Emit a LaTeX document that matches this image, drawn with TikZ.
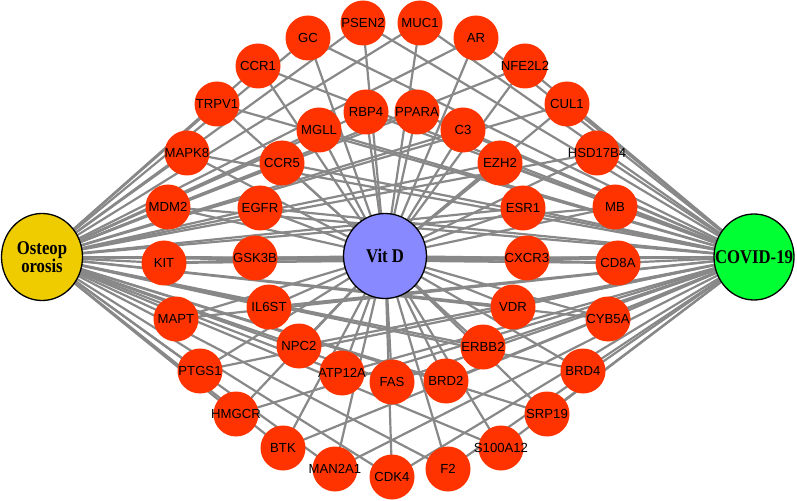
\documentclass[tikz,border=0pt]{standalone}
\usepackage{fontspec}
\setmainfont{Liberation Sans}
\newfontfamily\hubfont{Liberation Serif}
\usetikzlibrary{backgrounds,shapes.geometric}
\definecolor{genefill}{RGB}{255,51,0}
\definecolor{edgegray}{RGB}{136,136,136}
\definecolor{osteofill}{RGB}{238,204,0}
\definecolor{vitdfill}{RGB}{136,136,255}
\definecolor{covidfill}{RGB}{0,255,51}
\tikzset{
  genelabel/.style={font=\fontsize{13.2}{15}\selectfont,text=black,inner sep=0pt},
  gene/.style={circle,fill=genefill,minimum size=45bp,inner sep=0pt,
    label={[genelabel]center:#1}},
  hub/.style={ellipse,draw=black,line width=1.3bp,inner sep=0pt},
  hublabel/.style={font=\hubfont\bfseries\fontsize{19.5}{13.6}\selectfont,align=center,inner sep=0pt},
  link/.style={draw=edgegray,line width=2.2bp}
}
\newcommand{\hs}[1]{\scalebox{0.86}[1]{#1}}
\begin{document}
\begin{tikzpicture}[x=1bp,y=-1bp]
\useasboundingbox (0,0) rectangle (797,501);
% hubs
\node[hub,fill=osteofill,minimum width=81bp,minimum height=87bp,
  label={[hublabel]center:\hs{Osteop}\\\hs{orosis}}] (osteo) at (42,257) {};
\node[hub,fill=vitdfill,minimum width=83bp,minimum height=85bp,
  label={[hublabel]center:\hs{Vit D}}] (vitd) at (385,256) {};
\node[hub,fill=covidfill,minimum width=80bp,minimum height=86bp,
  label={[hublabel]center:\hs{COVID-19}}] (covid) at (754,257) {};
% outer ring
\node[gene=GC] (GC) at (308,38) {};
\node[gene=PSEN2] (PSEN2) at (363,23) {};
\node[gene=MUC1] (MUC1) at (420,23) {};
\node[gene=AR] (AR) at (476,38) {};
\node[gene=NFE2L2] (NFE2L2) at (525,66) {};
\node[gene=CUL1] (CUL1) at (567,104) {};
\node[gene=HSD17B4] (HSD17B4) at (597,153) {};
\node[gene=MB] (MB) at (615,207) {};
\node[gene=CD8A] (CD8A) at (618,263) {};
\node[gene=CYB5A] (CYB5A) at (608,319) {};
\node[gene=BRD4] (BRD4) at (583,371) {};
\node[gene=SRP19] (SRP19) at (547,414) {};
\node[gene=S100A12] (S100A12) at (501,448) {};
\node[gene=F2] (F2) at (448,469) {};
\node[gene=CDK4] (CDK4) at (392,477) {};
\node[gene=MAN2A1] (MAN2A1) at (335,469) {};
\node[gene=BTK] (BTK) at (283,448) {};
\node[gene=HMGCR] (HMGCR) at (236,414) {};
\node[gene=PTGS1] (PTGS1) at (200,371) {};
\node[gene=MAPT] (MAPT) at (176,319) {};
\node[gene=KIT] (KIT) at (164,263) {};
\node[gene=MDM2] (MDM2) at (168,207) {};
\node[gene=MAPK8] (MAPK8) at (187,153) {};
\node[gene=TRPV1] (TRPV1) at (217,104) {};
\node[gene=CCR1] (CCR1) at (258,66) {};
% inner ring
\node[gene=RBP4] (RBP4) at (366,112) {};
\node[gene=PPARA] (PPARA) at (417,112) {};
\node[gene=C3] (C3) at (463,130) {};
\node[gene=EZH2] (EZH2) at (500,163) {};
\node[gene=ESR1] (ESR1) at (523,208) {};
\node[gene=CXCR3] (CXCR3) at (527,258) {};
\node[gene=VDR] (VDR) at (513,307) {};
\node[gene=ERBB2] (ERBB2) at (483,347) {};
\node[gene=BRD2] (BRD2) at (446,381) {};
\node[gene=FAS] (FAS) at (392,382) {};
\node[gene=ATP12A] (ATP12A) at (342,373) {};
\node[gene=NPC2] (NPC2) at (299,346) {};
\node[gene=IL6ST] (IL6ST) at (269,307) {};
\node[gene=GSK3B] (GSK3B) at (255,258) {};
\node[gene=EGFR] (EGFR) at (260,208) {};
\node[gene=CCR5] (CCR5) at (282,163) {};
\node[gene=MGLL] (MGLL) at (319,130) {};
% edges
\begin{scope}[on background layer]
\foreach \g in {GC,PSEN2,MUC1,AR,NFE2L2,CUL1,HSD17B4,MB,CD8A,CYB5A,BRD4,SRP19,
  S100A12,F2,CDK4,MAN2A1,BTK,HMGCR,PTGS1,MAPT,KIT,MDM2,MAPK8,TRPV1,CCR1,
  RBP4,PPARA,C3,EZH2,ESR1,CXCR3,VDR,ERBB2,BRD2,FAS,ATP12A,NPC2,IL6ST,GSK3B,
  EGFR,CCR5,MGLL}{
  \draw[link] (osteo.center) -- (\g.center);
  \draw[link] (vitd.center) -- (\g.center);
  \draw[link] (covid.center) -- (\g.center);
}
\end{scope}
\end{tikzpicture}
\end{document}
